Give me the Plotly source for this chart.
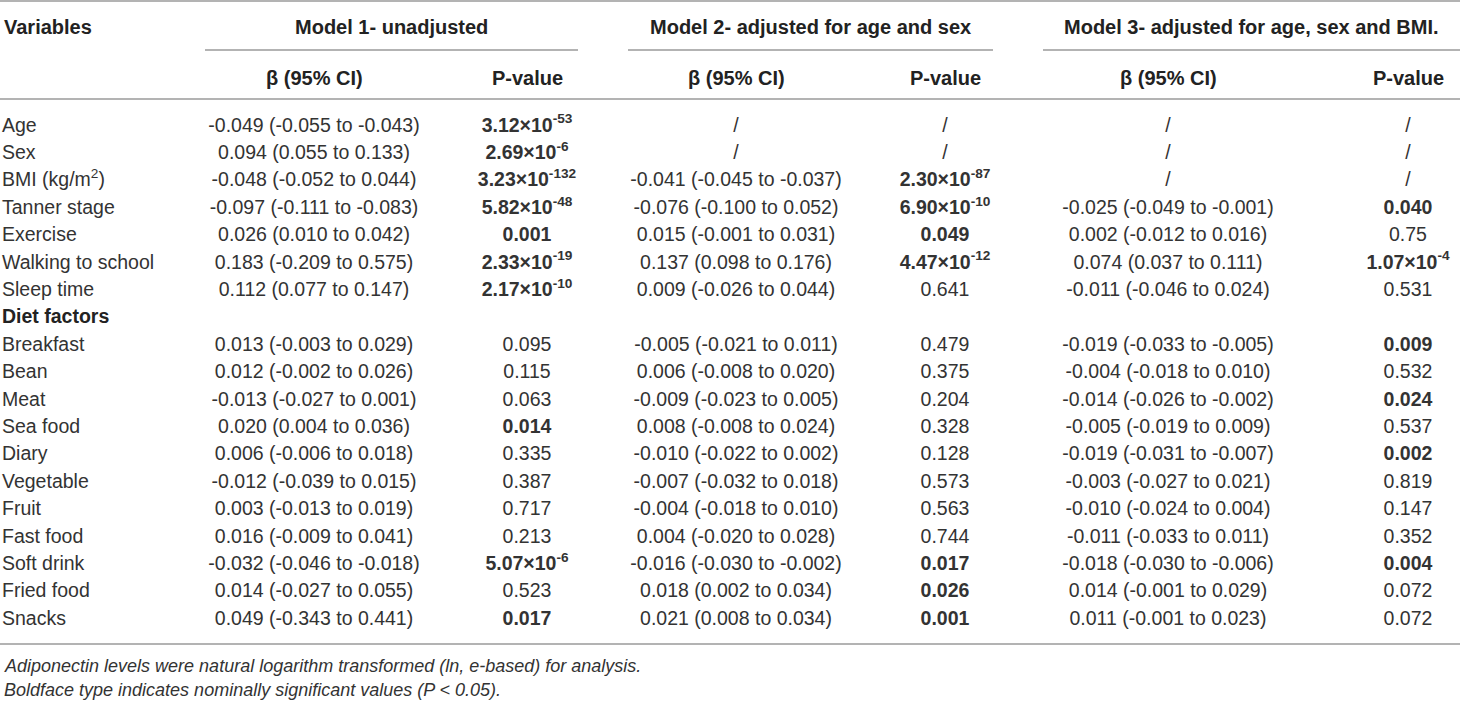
import plotly.graph_objects as go

# ---- data ----
general_vars = ["Age", "Sex", "BMI (kg/m<sup>2</sup>)", "Tanner stage", "Exercise",
                "Walking to school", "Sleep time"]
section_title = "Diet factors"
diet_vars = ["Breakfast", "Bean", "Meat", "Sea food", "Diary", "Vegetable", "Fruit",
             "Fast food", "Soft drink", "Fried food", "Snacks"]

m1_beta = [-0.049, 0.094, -0.048, -0.097, 0.026, 0.183, 0.112,
           0.013, 0.012, -0.013, 0.020, 0.006, -0.012, 0.003, 0.016, -0.032, 0.014, 0.049]
m1_lo = [-0.055, 0.055, -0.052, -0.111, 0.010, -0.209, 0.077,
         -0.003, -0.002, -0.027, 0.004, -0.006, -0.039, -0.013, -0.009, -0.046, -0.027, -0.343]
m1_hi = [-0.043, 0.133, 0.044, -0.083, 0.042, 0.575, 0.147,
         0.029, 0.026, 0.001, 0.036, 0.018, 0.015, 0.019, 0.041, -0.018, 0.055, 0.441]
m1_p = ["3.12e-53", "2.69e-6", "3.23e-132", "5.82e-48", "0.001", "2.33e-19", "2.17e-10",
        "0.095", "0.115", "0.063", "0.014", "0.335", "0.387", "0.717", "0.213", "5.07e-6",
        "0.523", "0.017"]

m2_beta = [None, None, -0.041, -0.076, 0.015, 0.137, 0.009,
           -0.005, 0.006, -0.009, 0.008, -0.010, -0.007, -0.004, 0.004, -0.016, 0.018, 0.021]
m2_lo = [None, None, -0.045, -0.100, -0.001, 0.098, -0.026,
         -0.021, -0.008, -0.023, -0.008, -0.022, -0.032, -0.018, -0.020, -0.030, 0.002, 0.008]
m2_hi = [None, None, -0.037, 0.052, 0.031, 0.176, 0.044,
         0.011, 0.020, 0.005, 0.024, 0.002, 0.018, 0.010, 0.028, -0.002, 0.034, 0.034]
m2_p = [None, None, "2.30e-87", "6.90e-10", "0.049", "4.47e-12", "0.641",
        "0.479", "0.375", "0.204", "0.328", "0.128", "0.573", "0.563", "0.744", "0.017",
        "0.026", "0.001"]

m3_beta = [None, None, None, -0.025, 0.002, 0.074, -0.011,
           -0.019, -0.004, -0.014, -0.005, -0.019, -0.003, -0.010, -0.011, -0.018, 0.014, 0.011]
m3_lo = [None, None, None, -0.049, -0.012, 0.037, -0.046,
         -0.033, -0.018, -0.026, -0.019, -0.031, -0.027, -0.024, -0.033, -0.030, -0.001, -0.001]
m3_hi = [None, None, None, -0.001, 0.016, 0.111, 0.024,
         -0.005, 0.010, -0.002, 0.009, -0.007, 0.021, 0.004, 0.011, -0.006, 0.029, 0.023]
m3_p = [None, None, None, "0.040", "0.75", "1.07e-4", "0.531",
        "0.009", "0.532", "0.024", "0.537", "0.002", "0.819", "0.147", "0.352", "0.004",
        "0.072", "0.072"]

model_titles = ["Model 1- unadjusted", "Model 2- adjusted for age and sex",
                "Model 3- adjusted for age, sex and BMI."]
sub_titles = ["β (95% CI)", "P-value"]
footnotes = ["Adiponectin levels were natural logarithm transformed (ln, e-based) for analysis.",
             "Boldface type indicates nominally significant values (P < 0.05)."]

# ---- layout constants (page pixels) ----
W, H = 1460, 701
FONT = "Liberation Sans, Arial, sans-serif"
TXT = "#333333"
LINE = "#9a9a9a"
FS = 19.5
row0, step = 126.7, 27.4
beta_x = [314, 736, 1168]
p_x = [527, 945, 1408]
span = [(205, 578), (628, 993), (1043, 1460)]


def fmt_beta(b, lo, hi):
    if b is None:
        return "/"
    return f"{b:.3f} ({lo:.3f} to {hi:.3f})"


def fmt_p(s):
    if s is None:
        return "/"
    if "e" in s:
        mant, ex = s.split("e")
        txt = f"{mant}×10<sup>{ex}</sup>"
    else:
        txt = s
    if float(s) < 0.05:
        txt = f"<b>{txt}</b>"
    return txt


# row index for each variable (section title sits between the two groups)
var_rows = list(range(len(general_vars))) + \
    [len(general_vars) + 1 + i for i in range(len(diet_vars))]
ys = [row0 + r * step for r in var_rows]

fig = go.Figure()

# variable names
fig.add_trace(go.Scatter(
    x=[2] * len(var_rows), y=ys, text=general_vars + diet_vars,
    mode="text", textposition="middle right",
    textfont=dict(family=FONT, size=FS, color=TXT), hoverinfo="skip"))
fig.add_trace(go.Scatter(
    x=[2], y=[row0 + len(general_vars) * step], text=[f"<b>{section_title}</b>"],
    mode="text", textposition="middle right",
    textfont=dict(family=FONT, size=FS, color="#222222"), hoverinfo="skip"))

models = [(m1_beta, m1_lo, m1_hi, m1_p), (m2_beta, m2_lo, m2_hi, m2_p),
          (m3_beta, m3_lo, m3_hi, m3_p)]
for k, (b, lo, hi, p) in enumerate(models):
    fig.add_trace(go.Scatter(
        x=[beta_x[k]] * len(b), y=ys,
        text=[fmt_beta(b[i], lo[i], hi[i]) for i in range(len(b))],
        mode="text", textposition="middle center",
        textfont=dict(family=FONT, size=FS, color=TXT), hoverinfo="skip"))
    fig.add_trace(go.Scatter(
        x=[p_x[k]] * len(p), y=ys, text=[fmt_p(v) for v in p],
        mode="text", textposition="middle center",
        textfont=dict(family=FONT, size=FS, color=TXT), hoverinfo="skip"))

# headers
hdr_font = dict(family=FONT, size=20, color="#222222")
fig.add_annotation(x=2, y=27, text="<b>Variables</b>", xanchor="left",
                   showarrow=False, font=hdr_font)
for k, t in enumerate(model_titles):
    a, b_ = span[k]
    fig.add_annotation(x=(a + b_) / 2, y=27, text=f"<b>{t}</b>", showarrow=False,
                       font=hdr_font)
    fig.add_annotation(x=beta_x[k], y=78, text=f"<b>{sub_titles[0]}</b>", showarrow=False,
                       font=hdr_font)
    fig.add_annotation(x=p_x[k], y=78, text=f"<b>{sub_titles[1]}</b>", showarrow=False,
                       font=hdr_font)
    fig.add_shape(type="line", x0=a, x1=b_, y0=50, y1=50, line=dict(color=LINE, width=1.5))

# rules
for yy in [1, 99, 644]:
    fig.add_shape(type="line", x0=0, x1=W, y0=yy, y1=yy, line=dict(color=LINE, width=1.5))

for i, t in enumerate(footnotes):
    fig.add_annotation(x=2, y=666 + i * 24, text=f"<i>{t}</i>", xanchor="left",
                       showarrow=False, font=dict(family=FONT, size=18, color=TXT))

fig.update_layout(
    width=W, height=H, margin=dict(l=0, r=0, t=0, b=0),
    paper_bgcolor="white", plot_bgcolor="white", showlegend=False,
    xaxis=dict(range=[0, W], visible=False, fixedrange=True),
    yaxis=dict(range=[H, 0], visible=False, fixedrange=True),
)

# drop the default body margin so the figure fills the window
fig.write_html("out.html", config={"displayModeBar": False},
               post_script="document.body.style.margin='0';")
